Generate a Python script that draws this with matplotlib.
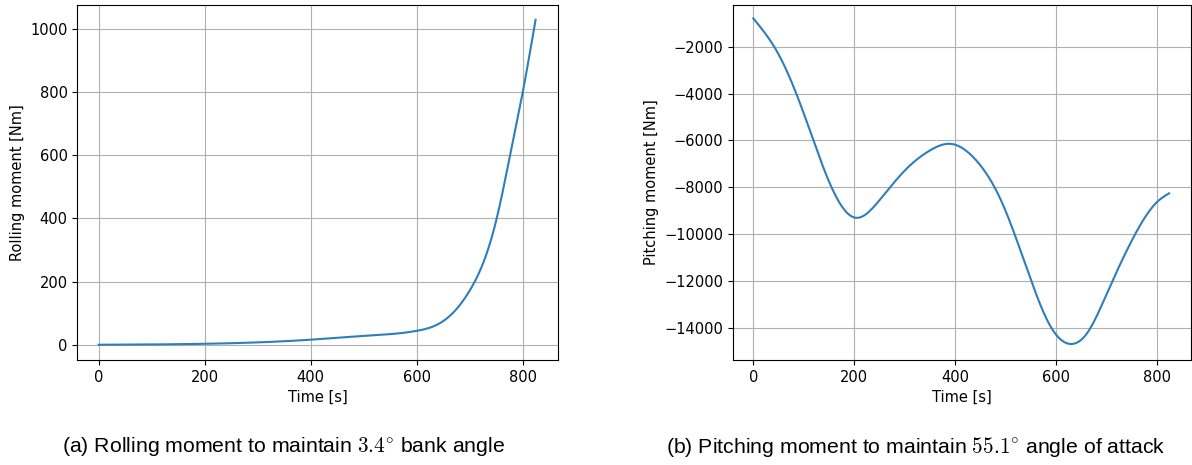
import matplotlib
matplotlib.use('Agg')
import matplotlib.pyplot as plt
import numpy as np

# rolling moment (a)
t_roll = [0, 200, 400, 500, 600, 650, 700, 750, 776, 800, 824]
m_roll = [0, 3, 16, 28, 44, 75, 172, 395, 600, 801, 1028]

# pitching moment (b)
t_pitch = [0, 50, 100, 150, 200, 250, 300, 350, 390, 440, 490, 540, 590, 628, 660, 700, 750, 800, 823]
m_pitch = [-786, -2320, -4850, -7760, -9290, -8545, -7280, -6420, -6143, -6820, -8540, -11380, -14000,
           -14690, -14250, -12530, -10240, -8610, -8257]

plt.rcParams['font.family'] = 'DejaVu Sans'
plt.rcParams['mathtext.fontset'] = 'cm'


def spline(t, m, n=400):
    # natural cubic spline through the read points, only for drawing a smooth curve
    t = np.asarray(t, float)
    m = np.asarray(m, float)
    k = len(t)
    h = np.diff(t)
    A = np.zeros((k, k))
    b = np.zeros(k)
    A[0, 0] = A[-1, -1] = 1
    for i in range(1, k - 1):
        A[i, i - 1] = h[i - 1]
        A[i, i] = 2 * (h[i - 1] + h[i])
        A[i, i + 1] = h[i]
        b[i] = 6 * ((m[i + 1] - m[i]) / h[i] - (m[i] - m[i - 1]) / h[i - 1])
    M = np.linalg.solve(A, b)
    tt = np.linspace(t[0], t[-1], n)
    idx = np.clip(np.searchsorted(t, tt) - 1, 0, k - 2)
    x0, x1 = t[idx], t[idx + 1]
    hh = x1 - x0
    a = (x1 - tt) / hh
    c = (tt - x0) / hh
    yy = (a * m[idx] + c * m[idx + 1]
          + ((a**3 - a) * M[idx] + (c**3 - c) * M[idx + 1]) * hh**2 / 6)
    return tt, yy


fig = plt.figure(figsize=(11.92, 4.65), dpi=100)
ax1 = fig.add_axes([0.065, 0.226, 0.403, 0.764])
ax2 = fig.add_axes([0.615, 0.226, 0.384, 0.764])

x, y = spline(t_roll, m_roll)
ax1.plot(x, y, color='#2f7ebc', lw=1.5)
ax1.set_xlabel('Time [s]', fontsize=10.5)
ax1.set_ylabel('Rolling moment [Nm]', fontsize=10.5)
ax1.set_xticks([0, 200, 400, 600, 800])
ax1.set_yticks([0, 200, 400, 600, 800, 1000])
ax1.set_ylim(-48, 1076)
ax1.set_xlim(-40, 866)

x, y = spline(t_pitch, m_pitch)
ax2.plot(x, y, color='#2f7ebc', lw=1.5)
ax2.set_xlabel('Time [s]', fontsize=10.5)
ax2.set_ylabel('Pitching moment [Nm]', fontsize=10.5)
ax2.set_xticks([0, 200, 400, 600, 800])
ax2.set_yticks([-2000, -4000, -6000, -8000, -10000, -12000, -14000])
ax2.set_ylim(-15370, -200)
ax2.set_xlim(-40, 866)

for ax in (ax1, ax2):
    ax.grid(True, color='#b0b0b0', lw=0.8)
    ax.tick_params(labelsize=10.5)

fig.text(0.238, 0.026, r'(a) Rolling moment to maintain $3.4^{\circ}$ bank angle',
         ha='center', fontsize=15.3, family='Liberation Sans')
fig.text(0.768, 0.026, r'(b) Pitching moment to maintain $55.1^{\circ}$ angle of attack',
         ha='center', fontsize=15.3, family='Liberation Sans')

fig.savefig('out.png', dpi=100)
